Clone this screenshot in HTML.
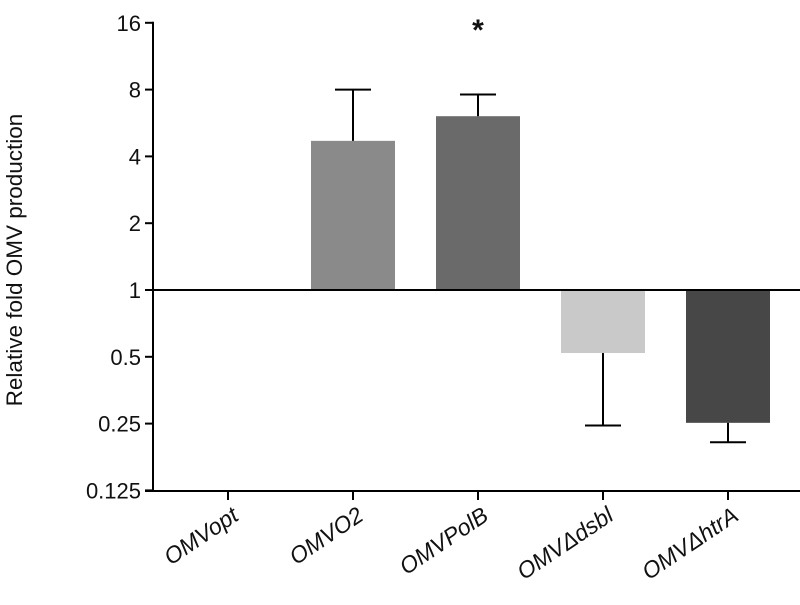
<!DOCTYPE html>
<html><head><meta charset="utf-8"><style>
body{margin:0;background:#fff;}
svg text{font-family:"Liberation Sans",sans-serif;}
</style></head><body>
<svg id="chart" width="800" height="600" xmlns="http://www.w3.org/2000/svg">
<g id="g"></g>
</svg>
<script>
const categories=["OMVopt","OMVO2","OMVPolB","OMV\u0394dsbl","OMV\u0394htrA"];
const values=[1,4.7,6.07,0.52,0.252];
const errors=[1,8.0,7.6,0.245,0.206];
const colors=["#ffffff","#8a8a8a","#6a6a6a","#c9c9c9","#474747"];
const yTicks=[16,8,4,2,1,0.5,0.25,0.125];
const yTickLabels=["16","8","4","2","1","0.5","0.25","0.125"];
const NS="http://www.w3.org/2000/svg";
const g=document.getElementById('g');
const axX=153,axY=491,perDbl=66.8;
function y(v){return 290-Math.log2(v)*perDbl;}
function x(i){return 228+i*125;}
function el(t,a,txt){const e=document.createElementNS(NS,t);for(const k in a)e.setAttribute(k,a[k]);if(txt!=null)e.textContent=txt;g.appendChild(e);return e;}
categories.forEach((c,i)=>{
  if(values[i]===1)return;
  const top=Math.min(y(values[i]),y(1)),bot=Math.max(y(values[i]),y(1));
  const b=el('rect',{x:x(i)-42,y:top,width:84,height:bot-top,fill:colors[i]});
  
  
  const ey=y(errors[i]),vy=y(values[i]);
  const e1=el('line',{x1:x(i),x2:x(i),y1:vy,y2:ey,stroke:'#000','stroke-width':2});
  
  
  const e2=el('line',{x1:x(i)-18,x2:x(i)+18,y1:ey,y2:ey,stroke:'#000','stroke-width':2});
  
  
});
const bl=el('line',{x1:axX,x2:800,y1:y(1),y2:y(1),stroke:'#000','stroke-width':2});


const ya=el('line',{x1:axX,x2:axX,y1:y(16)-1,y2:axY+1,stroke:'#000','stroke-width':2});


const xa=el('line',{x1:axX-8,x2:800,y1:axY,y2:axY,stroke:'#000','stroke-width':2});


yTicks.forEach((v,i)=>{
  const t=el('line',{x1:axX-8,x2:axX,y1:y(v),y2:y(v),stroke:'#000','stroke-width':2});
  
  
  const l=el('text',{x:axX-12,y:y(v)+8,'text-anchor':'end','font-size':22,fill:'#111'},yTickLabels[i]);
  
  
});
categories.forEach((c,i)=>{
  const t=el('line',{x1:x(i),x2:x(i),y1:axY,y2:axY+9,stroke:'#000','stroke-width':2});
  
  
  const lx=x(i)+12,ly=axY+28;
  const l=el('text',{x:lx,y:ly,'text-anchor':'end','font-size':23,'font-style':'italic',fill:'#111',transform:`rotate(-34 ${lx} ${ly})`},c);
  
  
});
const yt=el('text',{x:0,y:0,'text-anchor':'middle','font-size':22.5,fill:'#111',transform:'translate(22 260) rotate(-90)'},'Relative fold OMV production');


const st=el('text',{x:x(2),y:40,'text-anchor':'middle','font-size':30,'font-weight':'bold',fill:'#111'},'*');


</script>
</body></html>
